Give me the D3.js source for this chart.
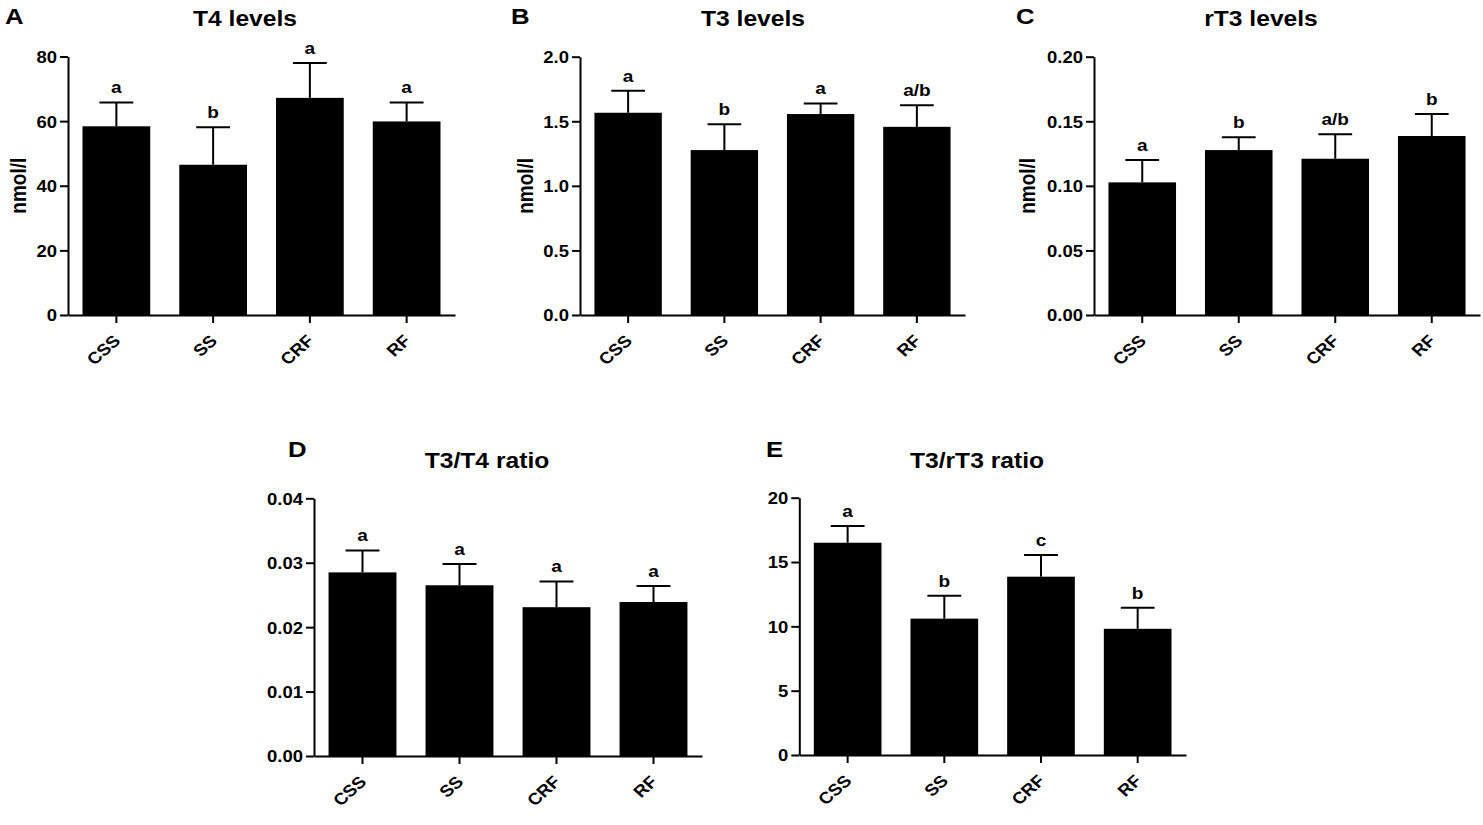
<!DOCTYPE html>
<html>
<head>
<meta charset="utf-8">
<script src="https://cdn.jsdelivr.net/npm/d3@7"></script>
<style>
  html, body { margin: 0; padding: 0; background: #fff; }
  svg { display: block; }
  text { font-family: "Liberation Sans", Arial, sans-serif; font-weight: bold; fill: #000; }
</style>
</head>
<body>
<svg id="chart" width="1483" height="825"></svg>
<script>
// ---------- data ----------
const groups = ["CSS", "SS", "CRF", "RF"];

const t4Mean = [58.4, 46.5, 67.2, 59.9];
const t4Err  = [7.4, 11.6, 10.8, 5.9];
const t4Sig  = ["a", "b", "a", "a"];
const t4Ticks = [0, 20, 40, 60, 80];

const t3Mean = [1.566, 1.277, 1.556, 1.457];
const t3Err  = [0.170, 0.200, 0.082, 0.168];
const t3Sig  = ["a", "b", "a", "a/b"];
const t3Ticks = [0, 0.5, 1.0, 1.5, 2.0];

const rt3Mean = [0.1027, 0.1277, 0.1210, 0.1386];
const rt3Err  = [0.0173, 0.0099, 0.0190, 0.0170];
const rt3Sig  = ["a", "b", "a/b", "b"];
const rt3Ticks = [0, 0.05, 0.10, 0.15, 0.20];

const t3t4Mean = [0.0285, 0.0265, 0.0231, 0.0239];
const t3t4Err  = [0.0034, 0.0033, 0.0040, 0.0025];
const t3t4Sig  = ["a", "a", "a", "a"];
const t3t4Ticks = [0, 0.01, 0.02, 0.03, 0.04];

const t3rt3Mean = [16.5, 10.6, 13.86, 9.81];
const t3rt3Err  = [1.30, 1.78, 1.68, 1.64];
const t3rt3Sig  = ["a", "b", "c", "b"];
const t3rt3Ticks = [0, 5, 10, 15, 20];

// ---------- layout ----------
const SX = 1.12; // horizontal text stretch seen in the reference
const svg = d3.select("#chart");

const panels = [
  { tag: "A", title: "T4 levels", mean: t4Mean, err: t4Err, sig: t4Sig, ticks: t4Ticks, fmt: d3.format("d"), ylabel: "nmol/l",
    x0: 68, x1: 455, yTop: 56.5, yBase: 315, tagX: 5, tagY: 24, titleX: 245, titleY: 26, ylabX: 25.5 },
  { tag: "B", title: "T3 levels", mean: t3Mean, err: t3Err, sig: t3Sig, ticks: t3Ticks, fmt: d3.format(".1f"), ylabel: "nmol/l",
    x0: 580, x1: 965, yTop: 56.7, yBase: 315, tagX: 511, tagY: 24, titleX: 753, titleY: 26, ylabX: 533 },
  { tag: "C", title: "rT3 levels", mean: rt3Mean, err: rt3Err, sig: rt3Sig, ticks: rt3Ticks, fmt: d3.format(".2f"), ylabel: "nmol/l",
    x0: 1094, x1: 1480, yTop: 56.7, yBase: 315, tagX: 1016, tagY: 24, titleX: 1261, titleY: 26, ylabX: 1035 },
  { tag: "D", title: "T3/T4 ratio", mean: t3t4Mean, err: t3t4Err, sig: t3t4Sig, ticks: t3t4Ticks, fmt: d3.format(".2f"), ylabel: null,
    x0: 314, x1: 702, yTop: 498.3, yBase: 756, tagX: 288, tagY: 457, titleX: 487, titleY: 468 },
  { tag: "E", title: "T3/rT3 ratio", mean: t3rt3Mean, err: t3rt3Err, sig: t3rt3Sig, ticks: t3rt3Ticks, fmt: d3.format("d"), ylabel: null,
    x0: 799.3, x1: 1186, yTop: 497.7, yBase: 755, tagX: 766, tagY: 457, titleX: 977, titleY: 468 }
];

function stretchedText(sel, x, y, str, size, anchor, rot) {
  return sel.append("text")
    .attr("transform", `translate(${x},${y}) scale(${SX},1)` + (rot ? ` rotate(${rot})` : ""))
    .attr("text-anchor", anchor)
    .style("font-size", size + "px")
    .text(str);
}

panels.forEach(p => {
  const g = svg.append("g");
  const vmax = p.ticks[p.ticks.length - 1];
  const y = d3.scaleLinear().domain([0, vmax]).range([p.yBase, p.yTop]);
  const x = d3.scaleBand().domain(groups).range([p.x0, p.x1]).paddingInner(0.30).paddingOuter(0.15);
  const rows = groups.map((k, i) => ({ k, m: p.mean[i], e: p.err[i], s: p.sig[i] }));

  // bars
  g.selectAll("rect.bar").data(rows).join("rect")
    .attr("class", "bar")
    .attr("x", d => x(d.k))
    .attr("width", x.bandwidth())
    .attr("y", d => y(d.m))
    .attr("height", d => y(0) - y(d.m))
    .attr("fill", "#000");

  // error bars (upper only)
  const cw = x.bandwidth() / 2;
  g.selectAll("line.err").data(rows).join("line")
    .attr("class", "err")
    .attr("x1", d => x(d.k) + x.bandwidth() / 2).attr("x2", d => x(d.k) + x.bandwidth() / 2)
    .attr("y1", d => y(d.m)).attr("y2", d => y(d.m + d.e))
    .attr("stroke", "#000").attr("stroke-width", 2);
  g.selectAll("line.cap").data(rows).join("line")
    .attr("class", "cap")
    .attr("x1", d => x(d.k) + x.bandwidth() / 2 - cw / 2).attr("x2", d => x(d.k) + x.bandwidth() / 2 + cw / 2)
    .attr("y1", d => y(d.m + d.e)).attr("y2", d => y(d.m + d.e))
    .attr("stroke", "#000").attr("stroke-width", 2);

  // significance letters
  rows.forEach(d => {
    stretchedText(g, x(d.k) + x.bandwidth() / 2, y(d.m + d.e) - 9, d.s, 17, "middle");
  });

  // y axis
  const ya = g.append("g").attr("transform", `translate(${p.x0},0)`)
    .call(d3.axisLeft(y).tickValues(p.ticks).tickFormat(p.fmt).tickSize(8).tickSizeOuter(0).tickPadding(3));
  ya.select(".domain").attr("stroke-width", 2);
  ya.selectAll(".tick line").attr("stroke-width", 2);
  ya.selectAll(".tick text")
    .attr("x", null).attr("dy", "0.36em")
    .attr("transform", `translate(-11,0) scale(${SX},1)`)
    .style("font-size", "16.5px").attr("fill", "#000")
    .style("font-family", '"Liberation Sans", Arial, sans-serif').style("font-weight", "bold");

  // x axis
  const xa = g.append("g").attr("transform", `translate(0,${p.yBase})`)
    .call(d3.axisBottom(x).tickSize(8).tickSizeOuter(0));
  xa.select(".domain").attr("stroke-width", 2);
  xa.selectAll(".tick line").attr("stroke-width", 2);
  xa.selectAll(".tick text")
    .attr("x", null).attr("y", null).attr("dy", null)
    .attr("text-anchor", "end")
    .attr("transform", `translate(5,27) scale(${SX},1) rotate(-45)`)
    .style("font-size", "16.5px").attr("fill", "#000")
    .style("font-family", '"Liberation Sans", Arial, sans-serif').style("font-weight", "bold");

  // y label
  if (p.ylabel) {
    stretchedText(g, p.ylabX, (p.yTop + p.yBase) / 2, p.ylabel, 19, "middle", -90);
  }

  // title and panel tag
  stretchedText(g, p.titleX, p.titleY, p.title, 22, "middle");
  stretchedText(g, p.tagX, p.tagY, p.tag, 23, "start");
});
</script>
</body>
</html>
